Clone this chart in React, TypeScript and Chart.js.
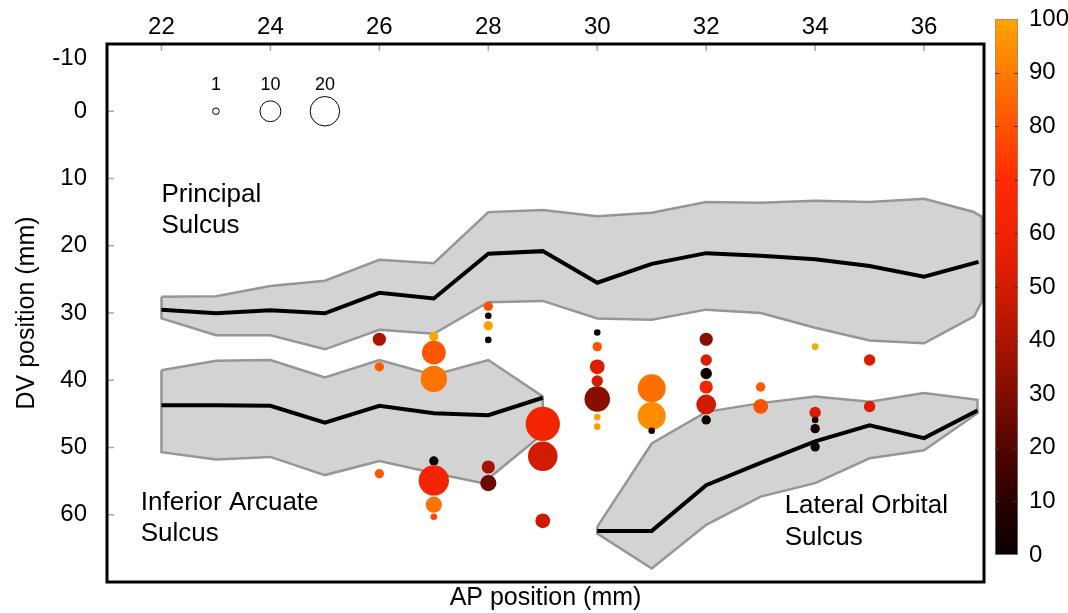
import React, { useEffect, useRef } from 'react';
import { Chart, registerables } from 'chart.js';

Chart.register(...registerables);

const FONT = '"Liberation Sans", Arial, Helvetica, sans-serif';

// ---- axes ----
const X_TICKS = [22, 24, 26, 28, 30, 32, 34, 36];
const Y_TICKS = [-10, 0, 10, 20, 30, 40, 50, 60];
const CB_TICKS = [0, 10, 20, 30, 40, 50, 60, 70, 80, 90, 100];

// ---- recorded sites: AP, DV, count, percentage ----
const SITE_AP = [26, 26, 26, 27, 27, 27, 27, 27, 27, 27, 28, 28, 28, 28, 28, 28, 29, 29, 29, 30, 30, 30, 30, 30, 30, 30, 31, 31, 31, 32, 32, 32, 32, 32, 32, 33, 33, 34, 34, 34, 34, 34, 35, 35];
const SITE_DV = [33.9, 38.0, 53.9, 33.5, 35.9, 39.8, 52.0, 54.9, 58.5, 60.3, 29.0, 30.4, 31.9, 34.0, 52.9, 55.3, 46.5, 51.3, 60.9, 32.9, 35.0, 38.0, 40.1, 42.8, 45.5, 46.9, 41.2, 45.3, 47.5, 33.9, 37.0, 39.0, 41.0, 43.6, 45.9, 41.0, 43.9, 35.0, 44.8, 45.9, 47.2, 49.9, 37.0, 43.9];
const SITE_COUNT = [4, 2, 2, 2, 13, 16, 2, 21, 6, 1, 2, 1, 2, 1, 4, 6, 27, 20, 5, 1, 2, 5, 3, 15, 1, 1, 18, 18, 1, 4, 3, 3, 4, 9, 2, 2, 5, 1, 3, 1, 2, 2, 3, 3];
const SITE_PCT = [40, 82, 81, 100, 81, 88, 1, 63, 88, 77, 80, 2, 99, 2, 38, 25, 62, 50, 49, 2, 80, 53, 50, 32, 99, 99, 87, 94, 1, 32, 52, 1, 63, 49, 2, 81, 80, 100, 52, 2, 2, 2, 52, 53];

// ---- size legend ----
const LEGEND_AP = [23, 24, 25];
const LEGEND_DV = [0, 0, 0];
const LEGEND_COUNT = [1, 10, 20];
const LEGEND_LABEL_DV = -3.1;

// ---- sulci (AP, DV) ----
const PS_UPPER = [[22, 27.6], [23, 27.5], [24, 26.0], [25, 25.2], [26, 22.1], [27, 22.6], [28, 15.0], [29, 14.7], [30, 15.6], [31, 15.1], [32, 13.5], [33, 13.6], [34, 13.3], [35, 13.5], [36, 13.0], [36.9, 14.95], [37.06, 15.7]];
const PS_LOWER = [[22, 30.8], [23, 33.3], [24, 33.3], [25, 35.4], [26, 32.5], [27, 33.1], [28, 28.4], [29, 28.2], [30, 30.8], [31, 31.0], [32, 29.5], [33, 30.0], [34, 32.2], [35, 34.1], [36, 34.5], [36.92, 30.5], [37.06, 28.3]];
const PS_MID = [[22, 29.5], [23, 30.05], [24, 29.6], [25, 30.05], [26, 27.0], [27, 27.85], [28, 21.2], [29, 20.8], [30, 25.5], [31, 22.7], [32, 21.1], [33, 21.5], [34, 22.0], [35, 23.0], [36, 24.6], [37, 22.4]];

const IA_UPPER = [[22, 38.5], [23, 37.1], [24, 37.0], [25, 39.6], [26, 37.0], [27, 39.2], [28, 37.0], [29, 42.4]];
const IA_LOWER = [[22, 50.7], [23, 51.8], [24, 51.4], [25, 54.1], [26, 52.0], [27, 53.8], [27.9, 55.3], [29, 48.0]];
const IA_MID = [[22, 43.7], [23, 43.7], [24, 43.8], [25, 46.3], [26, 43.8], [27, 44.9], [28, 45.2], [29, 42.6]];

const LO_UPPER = [[30, 61.8], [31, 49.4], [32, 44.7], [33, 43.4], [34, 42.4], [35, 43.2], [36, 41.9], [36.98, 42.9]];
const LO_LOWER = [[30, 62.8], [31, 68.0], [32, 61.5], [33, 57.3], [34, 55.3], [35, 51.6], [36, 50.4], [36.98, 44.9]];
const LO_MID = [[30, 62.4], [31, 62.4], [32, 55.6], [33, 52.3], [34, 49.1], [35, 46.7], [36, 48.6], [36.98, 44.5]];

// ---- text annotations ----
const NOTE_TEXT = ['Principal', 'Sulcus', 'Inferior Arcuate', 'Sulcus', 'Lateral Orbital', 'Sulcus'];
const NOTE_AP = [22.0, 22.0, 21.62, 21.62, 33.44, 33.44];
const NOTE_DV = [13.45, 18.05, 59.3, 63.9, 59.7, 64.5];

// colormap stops (value -> rgb)
const CMAP: [number, number[]][] = [
  [0, [10, 0, 0]], [10, [42, 0, 0]], [20, [82, 5, 0]], [30, [130, 12, 0]], [40, [172, 20, 0]],
  [50, [210, 28, 0]], [60, [240, 34, 0]], [70, [255, 42, 0]], [80, [255, 82, 0]], [90, [255, 123, 0]], [100, [255, 165, 0]],
];

function cmap(v: number): string {
  for (let i = 1; i < CMAP.length; i++) {
    const [v1, c1] = CMAP[i];
    const [v0, c0] = CMAP[i - 1];
    if (v <= v1) {
      const t = (v - v0) / (v1 - v0);
      const c = c0.map((a, k) => Math.round(a + (c1[k] - a) * t));
      return `rgb(${c[0]},${c[1]},${c[2]})`;
    }
  }
  const c = CMAP[CMAP.length - 1][1];
  return `rgb(${c[0]},${c[1]},${c[2]})`;
}

const R_SCALE = 3.3; // px radius for count 1 (area proportional)
const radius = (n: number) => R_SCALE * Math.sqrt(n);

const pts = (arr: number[][]) => arr.map(([x, y]) => ({ x, y }));
const polygon = (upper: number[][], lower: number[][]) =>
  pts([...upper, ...lower.slice().reverse(), upper[0]]);

const overlayPlugin = {
  id: 'overlay',
  afterDatasetsDraw(chart: any) {
    const { ctx, chartArea: a } = chart;
    const x = chart.scales.x;
    const y = chart.scales.y;
    ctx.save();
    ctx.strokeStyle = '#a6a6a6';
    ctx.lineWidth = 1.5;
    X_TICKS.forEach((v) => {
      const px = x.getPixelForValue(v);
      ctx.beginPath();
      ctx.moveTo(px, a.top);
      ctx.lineTo(px, a.top + 7);
      ctx.stroke();
    });
    Y_TICKS.forEach((v) => {
      if (v <= y.min) return;
      const py = y.getPixelForValue(v);
      ctx.beginPath();
      ctx.moveTo(a.left, py);
      ctx.lineTo(a.left + 7, py);
      ctx.stroke();
    });
    ctx.strokeStyle = '#000';
    ctx.lineWidth = 3;
    ctx.strokeRect(a.left, a.top, a.right - a.left, a.bottom - a.top);

    ctx.fillStyle = '#000';
    ctx.font = `26px ${FONT}`;
    ctx.textAlign = 'left';
    ctx.textBaseline = 'alphabetic';
    NOTE_TEXT.forEach((t, i) => {
      ctx.fillText(t, x.getPixelForValue(NOTE_AP[i]), y.getPixelForValue(NOTE_DV[i]));
    });
    ctx.font = `18px ${FONT}`;
    ctx.textAlign = 'center';
    LEGEND_AP.forEach((v, i) => {
      ctx.fillText(String(LEGEND_COUNT[i]), x.getPixelForValue(v), y.getPixelForValue(LEGEND_LABEL_DV));
    });
    ctx.restore();
  },
};

const cbPlugin = {
  id: 'cbticks',
  afterDatasetsDraw(chart: any) {
    const { ctx, chartArea: a } = chart;
    const y = chart.scales.y;
    ctx.save();
    ctx.strokeStyle = '#3a3a3a';
    ctx.lineWidth = 1;
    CB_TICKS.forEach((v) => {
      if (v <= 0 || v >= 100) return;
      const py = Math.round(y.getPixelForValue(v)) + 0.5;
      ctx.beginPath();
      ctx.moveTo(a.left, py);
      ctx.lineTo(a.left + 4, py);
      ctx.moveTo(a.right - 4, py);
      ctx.lineTo(a.right, py);
      ctx.stroke();
    });
    ctx.restore();
  },
};

export default function App() {
  const mainRef = useRef<HTMLCanvasElement>(null);
  const cbRef = useRef<HTMLCanvasElement>(null);

  useEffect(() => {
    const tickFont = { family: FONT, size: 24 };
    const titleFont = { family: FONT, size: 25 };

    const bubbles = SITE_AP.map((ap, i) => ({ x: ap, y: SITE_DV[i], r: radius(SITE_COUNT[i]) }));
    const bubbleColors = SITE_PCT.map(cmap);
    const legend = LEGEND_AP.map((ap, i) => ({ x: ap, y: LEGEND_DV[i], r: radius(LEGEND_COUNT[i]) }));

    const bandStyle = {
      type: 'scatter' as const,
      showLine: true,
      fill: 'shape',
      backgroundColor: '#d3d3d3',
      borderColor: '#969696',
      borderWidth: 2.5,
      pointRadius: 0,
      tension: 0,
      order: 3,
    };
    const midStyle = {
      type: 'scatter' as const,
      showLine: true,
      fill: false,
      borderColor: '#000',
      borderWidth: 4,
      pointRadius: 0,
      tension: 0,
      order: 2,
    };

    const main = new Chart(mainRef.current!, {
      type: 'scatter',
      data: {
        datasets: [
          { type: 'bubble', label: 'sites', data: bubbles, backgroundColor: bubbleColors, borderWidth: 0, order: 0 } as any,
          { type: 'bubble', label: 'size legend', data: legend, backgroundColor: '#fff', borderColor: '#000', borderWidth: 1, order: 1 } as any,
          { ...midStyle, label: 'PS mid', data: pts(PS_MID) } as any,
          { ...midStyle, label: 'IA mid', data: pts(IA_MID) } as any,
          { ...midStyle, label: 'LO mid', data: pts(LO_MID) } as any,
          { ...bandStyle, label: 'PS', data: polygon(PS_UPPER, PS_LOWER) } as any,
          { ...bandStyle, label: 'IA', data: polygon(IA_UPPER, IA_LOWER) } as any,
          { ...bandStyle, label: 'LO', data: polygon(LO_UPPER, LO_LOWER) } as any,
        ],
      },
      options: {
        animation: false,
        responsive: false,
        layout: { padding: { left: 0, right: 84, top: 0, bottom: 0 } },
        plugins: { legend: { display: false }, tooltip: { enabled: false } },
        scales: {
          x: {
            type: 'linear',
            position: 'top',
            min: 21,
            max: 37.1,
            grid: { display: false },
            border: { display: false },
            ticks: { font: tickFont, color: '#000', padding: -6, maxRotation: 0 },
            afterBuildTicks: (s: any) => { s.ticks = X_TICKS.map((v) => ({ value: v })); },
            afterFit: (s: any) => { s.height = 44; s.paddingLeft = 0; s.paddingRight = 0; },
          },
          x2: {
            type: 'linear',
            position: 'bottom',
            min: 21,
            max: 37.1,
            grid: { display: false },
            border: { display: false },
            ticks: { display: false },
            title: { display: true, text: 'AP position (mm)', font: titleFont, color: '#000', padding: 0 },
            afterFit: (s: any) => { s.height = 31; s.paddingLeft = 0; s.paddingRight = 0; },
          },
          y: {
            type: 'linear',
            position: 'left',
            reverse: true,
            min: -10,
            max: 70,
            grid: { display: false },
            border: { display: false },
            ticks: {
              font: tickFont,
              color: '#000',
              padding: 12,
              callback: (v: any) => (v === -10 ? ['', '-10'] : String(v)),
            },
            title: { display: true, text: 'DV position (mm)', font: titleFont, color: '#000', padding: { top: 12, bottom: 0 } },
            afterBuildTicks: (s: any) => { s.ticks = Y_TICKS.map((v) => ({ value: v })); },
            afterFit: (s: any) => { s.width = 107; s.paddingTop = 0; s.paddingBottom = 0; },
          },
        },
      } as any,
      plugins: [overlayPlugin],
    });

    const cb = new Chart(cbRef.current!, {
      type: 'bar',
      data: {
        labels: [''],
        datasets: [
          {
            label: 'colorbar',
            data: [[CB_TICKS[0], CB_TICKS[CB_TICKS.length - 1]]] as any,
            backgroundColor: (ctx: any) => {
              const area = ctx.chart.chartArea;
              if (!area) return '#000';
              const g = ctx.chart.ctx.createLinearGradient(0, area.bottom, 0, area.top);
              CMAP.forEach(([v]) => g.addColorStop(v / 100, cmap(v)));
              return g;
            },
            borderColor: '#8c8c8c',
            borderWidth: 1,
            borderSkipped: false,
            barPercentage: 1,
            categoryPercentage: 1,
          } as any,
        ],
      },
      options: {
        animation: false,
        responsive: false,
        layout: { padding: { left: 12, right: 0, top: 19, bottom: 58 } },
        plugins: { legend: { display: false }, tooltip: { enabled: false } },
        scales: {
          x: { display: false },
          y: {
            position: 'right',
            min: 0,
            max: 100,
            grid: { display: false },
            border: { display: false },
            ticks: { font: { family: FONT, size: 24 }, color: '#000', padding: 3 },
            afterBuildTicks: (s: any) => { s.ticks = CB_TICKS.map((v) => ({ value: v })); },
            afterFit: (s: any) => { s.width = 50; s.paddingTop = 0; s.paddingBottom = 0; },
          },
        },
      } as any,
      plugins: [cbPlugin],
    });

    return () => {
      main.destroy();
      cb.destroy();
    };
  }, []);

  return (
    <div style={{ position: 'fixed', left: 0, top: 0, width: 1068, height: 613, background: '#fff' }}>
      <canvas ref={mainRef} width={1068} height={613} style={{ position: 'absolute', left: 0, top: 0, width: 1068, height: 613 }} />
      <canvas ref={cbRef} width={85} height={613} style={{ position: 'absolute', left: 983, top: 0, width: 85, height: 613 }} />
    </div>
  );
}
